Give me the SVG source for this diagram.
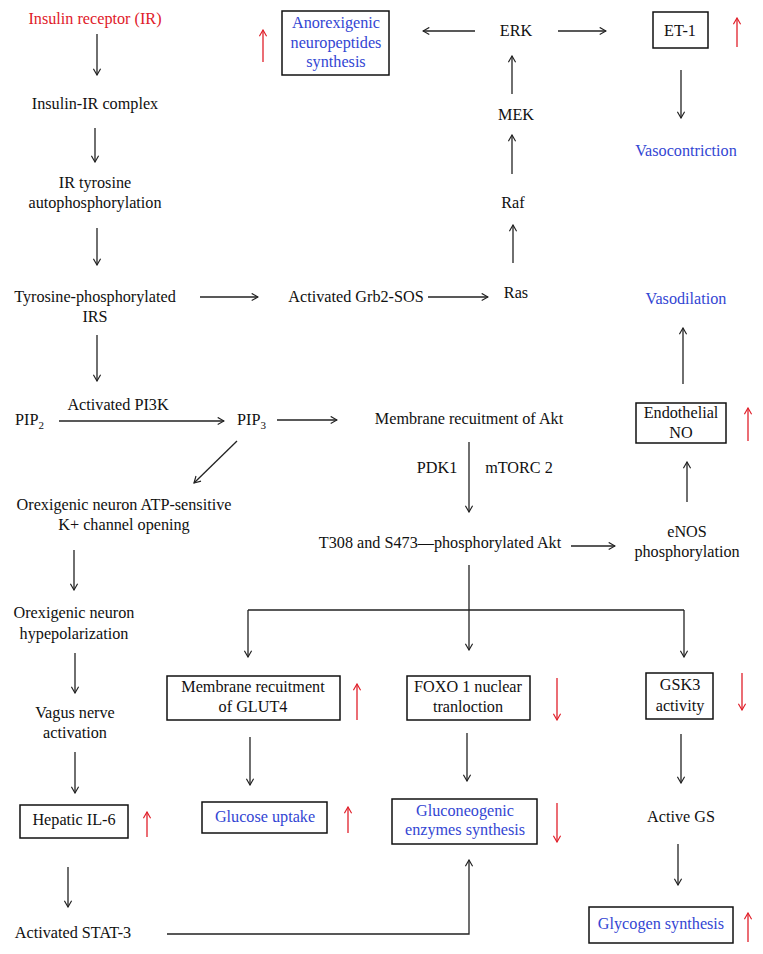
<svg xmlns="http://www.w3.org/2000/svg" width="763" height="954" viewBox="0 0 763 954">
<style>
text{font-family:"Liberation Serif","Times New Roman",serif;font-size:16.2px;fill:#111;text-anchor:middle}
.r{fill:#e0202a}
.b{fill:#3346d3}
.s{text-anchor:start}
.box{fill:#fff;stroke:#111;stroke-width:1.5}
.c{fill:none;stroke:#222;stroke-width:1.3}
.ca{fill:none;stroke:#222;stroke-width:1.3;marker-end:url(#ah)}
.ra{fill:none;stroke:#e0202a;stroke-width:1.3;marker-end:url(#rh)}
</style>
<defs>
<marker id="ah" viewBox="0 0 10 10" refX="9" refY="5" markerWidth="9" markerHeight="9" orient="auto" markerUnits="userSpaceOnUse"><path d="M2,1 L9,5 L2,9" fill="none" stroke="#222" stroke-width="1.3"/></marker>
<marker id="rh" viewBox="0 0 10 10" refX="9" refY="5" markerWidth="9" markerHeight="9" orient="auto" markerUnits="userSpaceOnUse"><path d="M2,1 L9,5 L2,9" fill="none" stroke="#e0202a" stroke-width="1.3"/></marker>
</defs>
<rect width="763" height="954" fill="#fff"/>

<g id="connectors">
<path class="ca" d="M97,34 V75"/>
<path class="ca" d="M95,128 V162"/>
<path class="ca" d="M97,228 V265"/>
<path class="ca" d="M200,297 H258"/>
<path class="ca" d="M428,297 H488"/>
<path class="ca" d="M513,263 V225"/>
<path class="ca" d="M512,174 V135"/>
<path class="ca" d="M512,94 V56"/>
<path class="ca" d="M475,31 H423"/>
<path class="ca" d="M558,31 H606"/>
<path class="ca" d="M681,70 V118"/>
<path class="ca" d="M97,335 V381"/>
<path class="ca" d="M59,421 H224"/>
<path class="ca" d="M277,420 H337"/>
<path class="ca" d="M237,441 L194,483"/>
<path class="ca" d="M469,442 V512"/>
<path class="ca" d="M571,546 H615"/>
<path class="ca" d="M687,502 V462"/>
<path class="ca" d="M683,384 V328"/>
<path class="ca" d="M74,550 V590"/>
<path class="ca" d="M75,653 V693"/>
<path class="ca" d="M75,752 V793"/>
<path class="ca" d="M68,867 V907"/>
<path class="ca" d="M469,565 V650"/>
<path class="c" d="M248,610 H684"/>
<path class="ca" d="M248,610 V657"/>
<path class="ca" d="M684,610 V657"/>
<path class="ca" d="M250,737 V785"/>
<path class="ca" d="M467,733 V781"/>
<path class="ca" d="M681,734 V783"/>
<path class="ca" d="M678,844 V885"/>
<path class="ca" d="M167,934 H469 V860"/>
</g>

<g id="indicators">
<path class="ra" d="M263,62 V30"/>
<path class="ra" d="M737,47 V18"/>
<path class="ra" d="M748,441 V408"/>
<path class="ra" d="M357,720 V684"/>
<path class="ra" d="M557,678 V720"/>
<path class="ra" d="M742,673 V710"/>
<path class="ra" d="M147,837 V812"/>
<path class="ra" d="M348,833 V807"/>
<path class="ra" d="M557,803 V842"/>
<path class="ra" d="M748,942 V913"/>
</g>

<g id="insulin-receptor"><text class="r" x="95" y="24">Insulin receptor (IR)</text></g>
<g id="insulin-ir-complex"><text x="95" y="109">Insulin-IR complex</text></g>
<g id="ir-autophos"><text x="95" y="188">IR tyrosine</text><text x="95" y="208">autophosphorylation</text></g>
<g id="irs"><text x="95" y="302">Tyrosine-phosphorylated</text><text x="95" y="322">IRS</text></g>
<g id="grb2"><text x="356" y="302">Activated Grb2-SOS</text></g>
<g id="ras"><text x="516" y="298">Ras</text></g>
<g id="raf"><text x="513" y="208">Raf</text></g>
<g id="mek"><text x="516" y="120">MEK</text></g>
<g id="erk"><text x="516" y="36">ERK</text></g>
<g id="anorexigenic"><rect class="box" x="282" y="11" width="107" height="64"/><text class="b" x="336" y="28">Anorexigenic</text><text class="b" x="336" y="48">neuropeptides</text><text class="b" x="336" y="67">synthesis</text></g>
<g id="et1"><rect class="box" x="653" y="12" width="55" height="36"/><text x="680" y="36">ET-1</text></g>
<g id="vasoconstriction"><text class="b" x="686" y="156">Vasocontriction</text></g>
<g id="vasodilation"><text class="b" x="686" y="304">Vasodilation</text></g>
<g id="endothelial-no"><rect class="box" x="636" y="403" width="90" height="40"/><text x="681" y="418">Endothelial</text><text x="681" y="438">NO</text></g>
<g id="pip2"><text class="s" x="15" y="425">PIP<tspan font-size="11" dy="4">2</tspan></text></g>
<g id="pi3k"><text x="118" y="410">Activated PI3K</text></g>
<g id="pip3"><text class="s" x="237" y="425">PIP<tspan font-size="11" dy="4">3</tspan></text></g>
<g id="akt-membrane"><text x="469" y="424">Membrane recuitment of Akt</text></g>
<g id="pdk1"><text x="437" y="473">PDK1</text></g>
<g id="mtorc2"><text x="519" y="473">mTORC 2</text></g>
<g id="akt-phos"><text x="440" y="548">T308 and S473—phosphorylated Akt</text></g>
<g id="enos"><text x="687" y="537">eNOS</text><text x="687" y="557">phosphorylation</text></g>
<g id="katp"><text x="124" y="510">Orexigenic neuron ATP-sensitive</text><text x="124" y="530">K+ channel opening</text></g>
<g id="hyperpol"><text x="74" y="618">Orexigenic neuron</text><text x="74" y="639">hypepolarization</text></g>
<g id="vagus"><text x="75" y="718">Vagus nerve</text><text x="75" y="738">activation</text></g>
<g id="il6"><rect class="box" x="20" y="805" width="108" height="33"/><text x="74" y="825">Hepatic IL-6</text></g>
<g id="stat3"><text x="73" y="938">Activated STAT-3</text></g>
<g id="glut4"><rect class="box" x="167" y="676" width="173" height="44"/><text x="253" y="692">Membrane recuitment</text><text x="253" y="712">of GLUT4</text></g>
<g id="foxo1"><rect class="box" x="407" y="676" width="123" height="44"/><text x="468" y="692">FOXO 1 nuclear</text><text x="468" y="712">tranloction</text></g>
<g id="gsk3"><rect class="box" x="646" y="673" width="67" height="46"/><text x="680" y="690">GSK3</text><text x="680" y="711">activity</text></g>
<g id="glucose-uptake"><rect class="box" x="202" y="802" width="125" height="31"/><text class="b" x="265" y="822">Glucose uptake</text></g>
<g id="gluconeogenic"><rect class="box" x="392" y="799" width="145" height="45"/><text class="b" x="465" y="816">Gluconeogenic</text><text class="b" x="465" y="835">enzymes synthesis</text></g>
<g id="active-gs"><text x="681" y="822">Active GS</text></g>
<g id="glycogen"><rect class="box" x="589" y="907" width="144" height="36"/><text class="b" x="661" y="929">Glycogen synthesis</text></g>
</svg>
